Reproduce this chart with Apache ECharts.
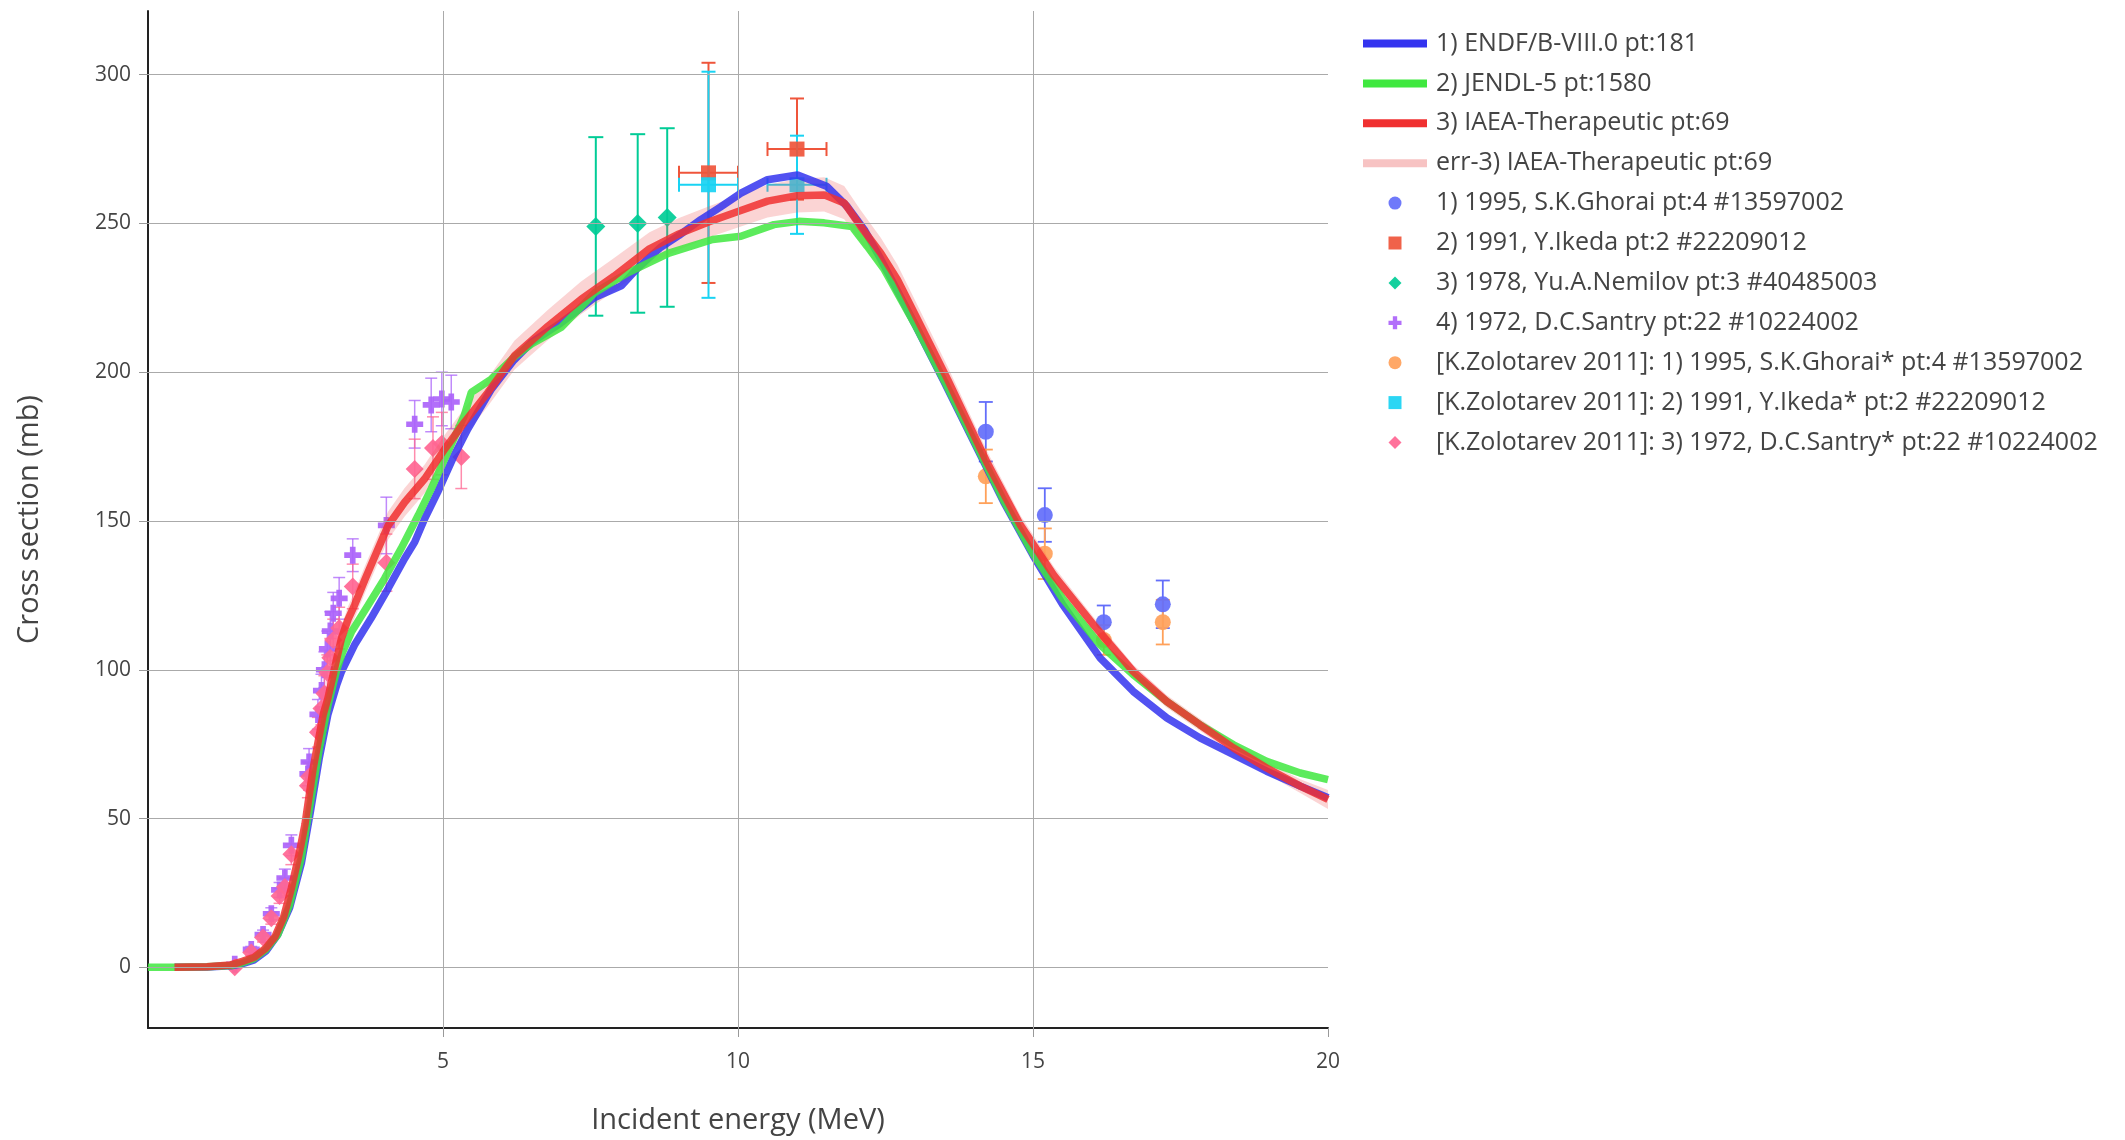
<!DOCTYPE html>
<html><head><meta charset="utf-8">
<script src="https://cdn.jsdelivr.net/npm/echarts@6/dist/echarts.min.js"></script>
<style>html,body{margin:0;padding:0;background:#fff}#c{width:2125px;height:1140px}</style>
</head><body><div id="c"></div>
<script>
// ---- tick labels / grid ----
const xTicks = [5, 10, 15, 20];
const xGrid  = [5, 10, 15];
const yTicks = [0, 50, 100, 150, 200, 250, 300];

// ---- 1) ENDF/B-VIII.0 ----
const endfE  = [0.45,1.0,1.4,1.6,1.8,2.0,2.2,2.4,2.6,2.75,2.9,3.05,3.2,3.28,3.5,3.78,4.07,4.35,4.52,4.69,4.91,5.19,5.42,5.82,6.2,6.5,7.0,7.3,7.56,8.02,8.3,8.69,9.0,9.37,9.7,10.05,10.5,11.01,11.51,11.85,12.14,12.42,13.0,13.5,14.0,14.5,15.0,15.5,16.14,16.7,17.27,17.83,18.4,18.96,19.53,20.0];
const endfXS = [0,0.1,0.5,1.2,2.5,5.5,11,20,35,52,70,85,95,99.4,108.3,117.3,127.3,137.4,142.9,150.8,159.7,172,180.9,194.3,204,210,216.6,221,225,229,235,242,246,251.3,255.5,260.2,264.7,266.3,262.4,255.7,247.9,238,216,196.5,176.5,156.5,138.5,122,103.9,92.7,83.8,77.1,71.5,65.9,60.9,57];

// ---- 2) JENDL-5 ----
const jendlE  = [0,0.5,1.0,1.4,1.6,1.8,2.0,2.2,2.4,2.6,2.75,2.9,3.05,3.2,3.3,3.45,3.73,4.01,4.29,4.58,4.8,5.08,5.36,5.48,5.82,6.2,6.5,7.0,7.57,8.13,8.83,9.57,10.05,10.61,11.03,11.46,11.93,12.19,12.48,13.0,13.5,14.0,14.5,15.0,15.5,16.14,16.7,17.27,17.83,18.4,18.96,19.53,20.0];
const jendlXS = [0,0,0.2,0.6,1.5,3,6,11,21,37,55,73,88,100,106,112.8,121.7,130.7,140.7,151.9,160.8,173.1,185.4,193.2,197.7,205,209.5,215,226.7,233.4,240,244.6,245.7,249.6,250.7,250.2,249,242.3,234.5,216,197,177,157,139,124,108.3,98.3,89.3,81.5,74.8,69.2,65.3,63.1];

// ---- 3) IAEA-Therapeutic and its uncertainty band ----
const iaeaE  = [0.45,1.0,1.4,1.6,1.8,2.0,2.15,2.3,2.43,2.55,2.66,2.8,2.97,3.05,3.19,3.28,3.39,3.5,3.67,3.78,4.07,4.35,4.69,5.03,5.36,5.76,6.21,6.78,7.34,7.9,8.5,9.0,9.5,10.0,10.5,11.0,11.46,11.8,12.08,12.42,12.7,13.0,13.55,14.22,14.79,15.35,16.03,16.7,17.27,17.83,18.4,18.96,19.53,20.0];
const iaeaXS = [0,0.2,0.8,2.0,3.4,6.5,10.2,17,26.6,37,48,67,85,90.5,103,110.6,116.9,121.7,130,135.1,148.5,156.3,164.2,174.2,183.1,193.2,205.5,215.5,224.5,232.3,241.5,246.5,250.5,254,257.5,259.3,259.6,256.9,249,240,231.2,219.4,197.7,169.7,148.5,131.8,115,99.4,89.3,81.5,73.7,67,60.9,56.4];
const iaeaLo = [0,0.1,0.6,1.7,3.0,6.0,9.5,16,25.2,35.2,45.8,64,81.5,87,99,106.5,112.5,117.3,125.5,130.5,143.8,151.5,159.4,169.5,178.4,188.6,200.8,210.8,219.5,227.2,236.3,241.2,245.3,248.6,252,253.7,254,251.4,243.6,234.8,226.2,214.6,193.4,165.9,145.2,128.9,112.4,97.1,87.2,79.5,71.7,65,58.6,53.2];
const iaeaHi = [0,0.3,1.0,2.3,3.8,7.0,10.9,18,28,38.8,50.2,70,88.5,94,107,114.7,121.3,126.1,134.5,139.7,153.2,161.1,169,179,187.8,198,210.6,221,230.5,238.4,247,251.8,255.7,259.4,263,264.9,265.5,262.6,254.4,245.2,236.2,224.2,202,173.5,151.8,134.7,117.6,101.7,91.4,83.5,75.7,69,63.2,59.6];

// ---- experimental data ----
const ghoraiE   = [14.2, 15.2, 16.2, 17.2];
const ghoraiXS  = [180, 152, 116, 122];
const ghoraiErr = [10, 9, 5.6, 8];

const ikedaE   = [9.5, 11.0];
const ikedaXS  = [267, 275];
const ikedaErr = [37, 17];
const ikedaDE  = [0.5, 0.5];

const nemilovE   = [7.59, 8.3, 8.8];
const nemilovXS  = [249, 250, 252];
const nemilovErr = [30, 30, 30];

const santryE   = [1.47,1.75,1.95,2.09,2.23,2.32,2.43,2.71,2.73,2.88,2.94,2.99,3.04,3.09,3.14,3.24,3.47,4.04,4.52,4.8,4.98,5.14];
const santryXS  = [1.0,6.0,11,18,26,30,41,65,69,85,93,100,107,113,119,124,138.5,148.5,182.5,189,191,190];
const santryErr = [0.5,1,1.5,2,2.5,3,3.5,4,4.5,5,5.5,6,6,6.5,7,7,5.5,9.5,8,9,9,9];

const zol1E   = [14.2, 15.2, 16.2, 17.2];
const zol1XS  = [165, 139, 110, 116];
const zol1Err = [9, 8.5, 5, 7.5];

const zol2E   = [9.5, 11.0];
const zol2XS  = [263, 263];
const zol2Err = [38, 16.5];
const zol2DE  = [0.5, 0.5];

const zol3E   = [1.47,1.75,1.95,2.09,2.23,2.32,2.43,2.71,2.73,2.88,2.94,2.99,3.04,3.09,3.14,3.24,3.47,4.04,4.52,4.83,4.98,5.31];
const zol3XS  = [0,5,10,16.5,24,27,38,61,64,79,87,92,99,104,110,114,128,136,167.5,174.5,176,171.5];
const zol3Err = [0.5,1,1.5,2,2.5,3,3.5,4,4.5,5,5.5,6,6,6.5,7,7,7.5,9.6,10,10.5,10.5,10.6];

// ---- names ----
const names = [
  '1) ENDF/B-VIII.0 pt:181',
  '2) JENDL-5 pt:1580',
  '3) IAEA-Therapeutic pt:69',
  'err-3) IAEA-Therapeutic pt:69',
  '1) 1995, S.K.Ghorai pt:4 #13597002',
  '2) 1991, Y.Ikeda pt:2 #22209012',
  '3) 1978, Yu.A.Nemilov pt:3 #40485003',
  '4) 1972, D.C.Santry pt:22 #10224002',
  '[K.Zolotarev 2011]: 1) 1995, S.K.Ghorai* pt:4 #13597002',
  '[K.Zolotarev 2011]: 2) 1991, Y.Ikeda* pt:2 #22209012',
  '[K.Zolotarev 2011]: 3) 1972, D.C.Santry* pt:22 #10224002'
];

const C = {
  endf:'#3434ef', jendl:'#3fe83f', iaea:'#f03030', band:'rgba(240,90,90,0.26)', bandLegend:'#f7c3c3',
  ghorai:'#636efa', ikeda:'#ef553b', nemilov:'#00cc96', santry:'#ab63fa',
  zol1:'#ffa15a', zol2:'#19d3f3', zol3:'#ff6692', grid:'#aaa'
};
const CROSS = 'path://M4,0H8V4H12V8H8V12H4V8H0V4H4Z';
const SQUARE = 'path://M0,0H10V10H0Z';
const DIAMOND = 'path://M5,0L10,5L5,10L0,5Z';
const LINEICON = 'path://M0,0H64V8H0Z';

function pairs(xs, ys){ return xs.map((x,i)=>[x, ys[i]]); }
function errData(xs, ys, es, ds){ return xs.map((x,i)=>[x, ys[i], es[i], ds ? ds[i] : 0]); }

function errSeries(name, color, data, width, cap){
  return {
    type:'custom', name: name + ' err', z:1, silent:true, data:data,
    encode:{x:0, y:1},
    renderItem:function(params, api){
      const x=api.value(0), y=api.value(1), e=api.value(2), d=api.value(3);
      const st={stroke:color, lineWidth:width};
      const ch=[];
      if(e>0){
        const a=api.coord([x,y+e]), b=api.coord([x,y-e]);
        ch.push({type:'line',shape:{x1:a[0],y1:a[1],x2:b[0],y2:b[1]},style:st});
        ch.push({type:'line',shape:{x1:a[0]-cap,y1:a[1],x2:a[0]+cap,y2:a[1]},style:st});
        ch.push({type:'line',shape:{x1:b[0]-cap,y1:b[1],x2:b[0]+cap,y2:b[1]},style:st});
      }
      if(d>0){
        const a=api.coord([x-d,y]), b=api.coord([x+d,y]);
        ch.push({type:'line',shape:{x1:a[0],y1:a[1],x2:b[0],y2:b[1]},style:st});
        ch.push({type:'line',shape:{x1:a[0],y1:a[1]-cap,x2:a[0],y2:a[1]+cap},style:st});
        ch.push({type:'line',shape:{x1:b[0],y1:b[1]-cap,x2:b[0],y2:b[1]+cap},style:st});
      }
      return {type:'group', children:ch};
    }
  };
}
function scatterSeries(name, color, symbol, xs, ys, size){
  return {type:'scatter', name:name, z:2, symbol:symbol, symbolSize:size || 15,
    itemStyle:{color:color, opacity:0.92}, data:pairs(xs, ys), silent:true};
}
function lineSeries(name, color, xs, ys){
  return {type:'line', name:name, z:3, showSymbol:false, symbol:'none', silent:true,
    color:color, lineStyle:{color:color, width:7.5, opacity:0.85}, data:pairs(xs, ys)};
}

const font = 'Open Sans, Noto Sans, sans-serif';
const chart = echarts.init(document.getElementById('c'), null, {renderer:'canvas'});
chart.setOption({
  animation:false,
  backgroundColor:'#fff',
  grid:{left:148, right:797, top:11, bottom:109, containLabel:false},
  xAxis:{
    type:'value', min:0, max:20, interval:5,
    name:'Incident energy (MeV)', nameLocation:'middle', nameGap:78,
    nameTextStyle:{fontFamily:font, fontSize:29, color:'#444'},
    axisLine:{show:true, onZero:false, lineStyle:{color:'#222', width:2}},
    axisTick:{show:true, inside:false, length:9, lineStyle:{color:'#999'}, customValues:xTicks},
    axisLabel:{fontFamily:font, fontSize:21, color:'#444', margin:24, customValues:xTicks},
    splitLine:{show:false}
  },
  yAxis:{
    type:'value', min:-20.4, max:321.4, splitNumber:6,
    name:'Cross section (mb)', nameLocation:'middle', nameGap:104,
    nameTextStyle:{fontFamily:font, fontSize:29, color:'#444'},
    axisLine:{show:true, onZero:false, lineStyle:{color:'#222', width:2}},
    axisTick:{show:true, inside:false, length:9, lineStyle:{color:'#999'}, customValues:yTicks},
    axisLabel:{fontFamily:font, fontSize:21, color:'#444', margin:17, customValues:yTicks},
    splitLine:{show:false}
  },
  legend:{
    orient:'vertical', left:1358, top:26, itemWidth:64, itemHeight:13, itemGap:14.9,
    selectedMode:false, align:'left',
    textStyle:{fontFamily:font, fontSize:25, color:'#444', padding:[0,0,0,4]},
    data:[
      {name:names[0], icon:LINEICON, itemStyle:{color:C.endf}},
      {name:names[1], icon:LINEICON, itemStyle:{color:C.jendl}},
      {name:names[2], icon:LINEICON, itemStyle:{color:C.iaea}},
      {name:names[3], icon:LINEICON, itemStyle:{color:C.bandLegend}},
      {name:names[4], icon:'circle', itemStyle:{color:C.ghorai}},
      {name:names[5], icon:SQUARE, itemStyle:{color:C.ikeda}},
      {name:names[6], icon:DIAMOND, itemStyle:{color:C.nemilov}},
      {name:names[7], icon:CROSS, itemStyle:{color:C.santry}},
      {name:names[8], icon:'circle', itemStyle:{color:C.zol1}},
      {name:names[9], icon:SQUARE, itemStyle:{color:C.zol2}},
      {name:names[10], icon:DIAMOND, itemStyle:{color:C.zol3}}
    ]
  },
  series:[
    // grid lines, drawn through the axes' scales
    {
      type:'line', name:'grid', data:[], z:0, silent:true,
      markLine:{
        silent:true, symbol:'none', label:{show:false}, animation:false,
        lineStyle:{color:C.grid, width:1, type:'solid'},
        emphasis:{disabled:true},
        data:[].concat(xGrid.map(v=>({xAxis:v})), yTicks.map(v=>({yAxis:v})))
      }
    },
    // error bars (below markers)
    errSeries(names[4], C.ghorai, errData(ghoraiE, ghoraiXS, ghoraiErr), 1.8, 7),
    errSeries(names[5], C.ikeda, errData(ikedaE, ikedaXS, ikedaErr, ikedaDE), 2, 7),
    errSeries(names[6], C.nemilov, errData(nemilovE, nemilovXS, nemilovErr), 2, 7.5),
    errSeries(names[7], 'rgba(171,99,250,0.75)', errData(santryE, santryXS, santryErr), 1.5, 6),
    errSeries(names[8], C.zol1, errData(zol1E, zol1XS, zol1Err), 1.8, 7),
    errSeries(names[9], C.zol2, errData(zol2E, zol2XS, zol2Err, zol2DE), 2, 7),
    errSeries(names[10], 'rgba(255,102,146,0.75)', errData(zol3E, zol3XS, zol3Err), 1.5, 6),
    // markers
    scatterSeries(names[4], C.ghorai, 'circle', ghoraiE, ghoraiXS, 16),
    scatterSeries(names[5], C.ikeda, SQUARE, ikedaE, ikedaXS, 15),
    scatterSeries(names[6], C.nemilov, DIAMOND, nemilovE, nemilovXS, 19),
    scatterSeries(names[7], C.santry, CROSS, santryE, santryXS, 17),
    scatterSeries(names[8], C.zol1, 'circle', zol1E, zol1XS, 16),
    scatterSeries(names[9], C.zol2, SQUARE, zol2E, zol2XS, 15),
    scatterSeries(names[10], C.zol3, DIAMOND, zol3E, zol3XS, 18),
    // evaluated curves
    lineSeries(names[0], C.endf, endfE, endfXS),
    lineSeries(names[1], C.jendl, jendlE, jendlXS),
    lineSeries(names[2], C.iaea, iaeaE, iaeaXS),
    {
      type:'custom', name:names[3], z:3, silent:true,
      itemStyle:{color:C.bandLegend},
      data:iaeaE.map((e,i)=>[e, iaeaLo[i], iaeaHi[i]]),
      encode:{x:0, y:[1,2]},
      renderItem:function(params, api){
        if(params.dataIndex !== 0) return null;
        const pts=[];
        for(let i=0;i<iaeaE.length;i++) pts.push(api.coord([iaeaE[i], iaeaHi[i]]));
        for(let i=iaeaE.length-1;i>=0;i--) pts.push(api.coord([iaeaE[i], iaeaLo[i]]));
        return {type:'polygon', shape:{points:pts}, style:{fill:C.band}};
      }
    }
  ]
});
</script></body></html>
